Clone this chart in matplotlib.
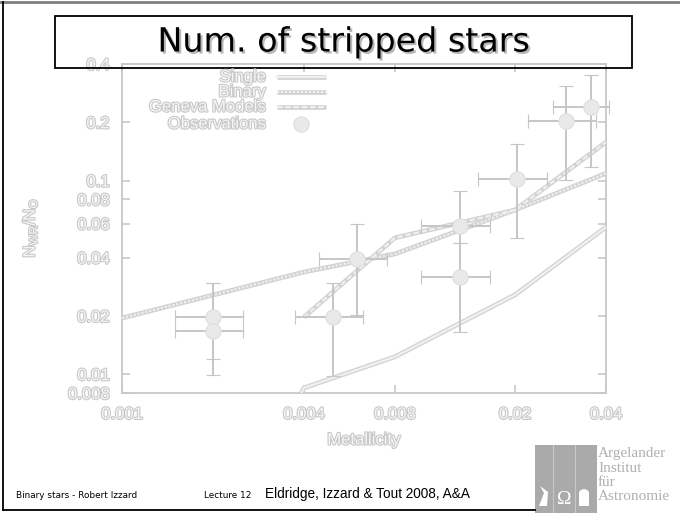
import matplotlib
matplotlib.use("Agg")
import matplotlib.pyplot as plt
import matplotlib.patheffects as pe
from matplotlib.patches import Rectangle, Polygon, Wedge
from matplotlib.lines import Line2D

plt.rcParams["font.family"] = ["Liberation Sans", "DejaVu Sans"]
plt.rcParams["mathtext.fontset"] = "custom"
plt.rcParams["mathtext.rm"] = "Liberation Sans"
plt.rcParams["mathtext.it"] = "Liberation Sans"
plt.rcParams["mathtext.default"] = "regular"

# model predictions of N_WR/N_O against metallicity
z_single = [0.001, 0.004, 0.008, 0.02, 0.04]
n_single = [0.0001, 0.0085, 0.0123, 0.0257, 0.0575]

z_binary = [0.001, 0.004, 0.008, 0.02, 0.04]
n_binary = [0.0195, 0.0337, 0.0418, 0.0705, 0.109]

z_geneva = [0.004, 0.008, 0.02, 0.04]
n_geneva = [0.0197, 0.0506, 0.0705, 0.158]

# observed ratios with their ranges in Z and N_WR/N_O
obs_z = [0.0020, 0.0020, 0.0050, 0.0060, 0.0131, 0.0131, 0.0203, 0.0295, 0.0357]
obs_z_lo = [0.0015, 0.0015, 0.00374, 0.00449, 0.00977, 0.00977, 0.0151, 0.0221, 0.0267]
obs_z_hi = [0.00251, 0.00251, 0.00628, 0.00754, 0.0165, 0.0165, 0.0255, 0.0371, 0.0409]
obs_n = [0.0197, 0.0167, 0.0197, 0.0394, 0.0582, 0.0318, 0.102, 0.203, 0.240]
obs_n_lo = [0.012, 0.0099, 0.0098, 0.0202, 0.0475, 0.0165, 0.0505, 0.1007, 0.1175]
obs_n_hi = [0.0296, 0.0296, 0.0296, 0.0597, 0.0883, 0.0475, 0.1546, 0.308, 0.351]

x_ticks = [0.001, 0.004, 0.008, 0.02, 0.04]
x_tick_labels = ["0.001", "0.004", "0.008", "0.02", "0.04"]
y_ticks = [0.008, 0.01, 0.02, 0.04, 0.06, 0.08, 0.1, 0.2, 0.4]
y_tick_labels = ["0.008", "0.01", "0.02", "0.04", "0.06", "0.08", "0.1", "0.2", "0.4"]

legend_labels = ["Single", "Binary", "Geneva Models", "Observations"]

W, H = 680, 513
AXIS = "#c8c8c8"
FILL = "#f5f5f5"
EDGE = "#c8c8c8"
LINE_BASE = "#d2d2d2"
LINE_TOP = "#f0f0f0"
faded = [pe.withStroke(linewidth=1.6, foreground=EDGE)]


def fx(px):
    return px / W


def fy(py):
    return 1 - py / H


fig = plt.figure(figsize=(W / 100, H / 100), dpi=100)
ax = fig.add_axes([fx(122), fy(393), (606 - 122) / W, (393 - 64) / H])
ax.set_xscale("log")
ax.set_yscale("log")
ax.set_xlim(0.001, 0.04)
ax.set_ylim(0.008, 0.4)

styles = {
    "Single": "-",
    "Binary": (0, (1.0, 0.8)),
    "Geneva Models": (0, (2.5, 1.2)),
}
curves = {
    "Single": (z_single, n_single),
    "Binary": (z_binary, n_binary),
    "Geneva Models": (z_geneva, n_geneva),
}
for name, (zz, nn) in curves.items():
    ax.plot(zz, nn, color=LINE_BASE, lw=3.4, solid_capstyle="butt", zorder=2)
    ax.plot(zz, nn, color=LINE_TOP, lw=1.6, linestyle=styles[name], zorder=3)

xerr = [[z - lo for z, lo in zip(obs_z, obs_z_lo)], [hi - z for z, hi in zip(obs_z, obs_z_hi)]]
yerr = [[n - lo for n, lo in zip(obs_n, obs_n_lo)], [hi - n for n, hi in zip(obs_n, obs_n_hi)]]
eb = ax.errorbar(obs_z, obs_n, xerr=xerr, yerr=yerr, fmt="o", ms=11,
                 mfc="#e9e9e9", mec="#dedede", mew=0.8,
                 ecolor="#c6c6c6", elinewidth=1.4, capsize=5, capthick=1.4,
                 zorder=4)
for art in eb.lines[1] + eb.lines[2]:
    art.set_clip_on(False)

for s in ax.spines.values():
    s.set_color(AXIS)
    s.set_linewidth(1.3)

ax.set_xticks(x_ticks)
ax.set_xticklabels(x_tick_labels)
ax.set_yticks(y_ticks)
ax.set_yticklabels(y_tick_labels)
ax.minorticks_off()
ax.tick_params(which="both", direction="in", length=6, width=1.2, color=AXIS,
               top=True, right=True, labelsize=12, labelcolor=FILL)
ax.tick_params(axis="x", pad=10)
ax.tick_params(axis="y", pad=9)
for lbl in ax.get_xticklabels() + ax.get_yticklabels():
    lbl.set_path_effects(faded)

fig.text(fx(364), fy(440), "Metallicity", ha="center", va="center",
         fontsize=12, color=FILL, path_effects=faded)
fig.text(fx(30), fy(228), r"N$_{WR}$/N$_{O}$", ha="center", va="center",
         rotation=90, fontsize=12, color=FILL, path_effects=faded)

# key in the upper left corner of the plot
key_y = [77, 92, 107, 124]
for label, py in zip(legend_labels, key_y):
    fig.text(fx(266), fy(py), label, ha="right", va="center", fontsize=12,
             color=FILL, path_effects=faded)
    if label in styles:
        xs = [fx(277), fx(326)]
        fig.add_artist(Line2D(xs, [fy(py)] * 2, color=LINE_BASE, lw=3.4,
                              solid_capstyle="butt", transform=fig.transFigure))
        fig.add_artist(Line2D(xs, [fy(py)] * 2, color=LINE_TOP, lw=1.6,
                              linestyle=styles[label], transform=fig.transFigure))
    else:
        fig.add_artist(Line2D([fx(301)], [fy(py)], marker="o", ms=11, mfc="#e9e9e9",
                              mec="#dedede", mew=0.8, transform=fig.transFigure))

# slide title box
fig.add_artist(Rectangle((fx(55), fy(68)), (632 - 55) / W, (68 - 15.7) / H,
                         fill=False, edgecolor="black", lw=1.3,
                         transform=fig.transFigure))
fig.text(fx(344), fy(42), "Num. of stripped stars", ha="center", va="center",
         fontsize=24, family="DejaVu Sans", color="black",
         path_effects=[pe.SimplePatchShadow(offset=(1.5, -1.5), shadow_rgbFace="#888888", alpha=0.6),
                       pe.Normal()])

# slide frame
fig.add_artist(Line2D([0, 1], [fy(2)] * 2, color="#808080", lw=2, transform=fig.transFigure))
fig.add_artist(Line2D([fx(3)] * 2, [fy(2), fy(510)], color="black", lw=1.3, transform=fig.transFigure))
fig.add_artist(Line2D([fx(3), fx(535)], [fy(510)] * 2, color="black", lw=1.3, transform=fig.transFigure))

# footer
fig.text(fx(16), fy(495), "Binary stars - Robert Izzard", ha="left", va="center",
         fontsize=6.4, family="DejaVu Sans", color="black")
fig.text(fx(204), fy(495), "Lecture 12", ha="left", va="center",
         fontsize=6.4, family="DejaVu Sans", color="black")
fig.text(fx(265), fy(494), "Eldridge, Izzard & Tout 2008, A&A", ha="left", va="center",
         fontsize=9.8, color="black")

# institute logo
fig.add_artist(Rectangle((fx(535), 0), (597 - 535) / W, (513 - 445) / H,
                         facecolor="#aaaaaa", edgecolor="none", transform=fig.transFigure))
for px in (553, 575):
    fig.add_artist(Line2D([fx(px)] * 2, [0, fy(445)], color="#c8c8c8", lw=0.8,
                          transform=fig.transFigure))
fig.add_artist(Polygon([(fx(539), fy(506)), (fx(544), fy(493)), (fx(540), fy(486)),
                        (fx(548), fy(492)), (fx(547), fy(506))],
                       closed=True, facecolor="white", edgecolor="none",
                       transform=fig.transFigure))
fig.text(fx(564), fy(499), "\u03a9", ha="center", va="center", fontsize=14,
         family="Liberation Serif", color="white")
fig.add_artist(Rectangle((fx(579), fy(506)), 10 / W, 13 / H, facecolor="white",
                         edgecolor="none", transform=fig.transFigure))
fig.add_artist(Wedge((fx(584), fy(493)), 5 / W, 0, 180, facecolor="white",
                     edgecolor="none", transform=fig.transFigure))
for word, py in zip(["Argelander", "Institut", "f\u00fcr", "Astronomie"], [454, 468, 482, 497]):
    fig.text(fx(598), fy(py), word, ha="left", va="center", fontsize=11,
             family="Liberation Serif", color="#b0b0b0")

fig.savefig("out.png", dpi=100)
